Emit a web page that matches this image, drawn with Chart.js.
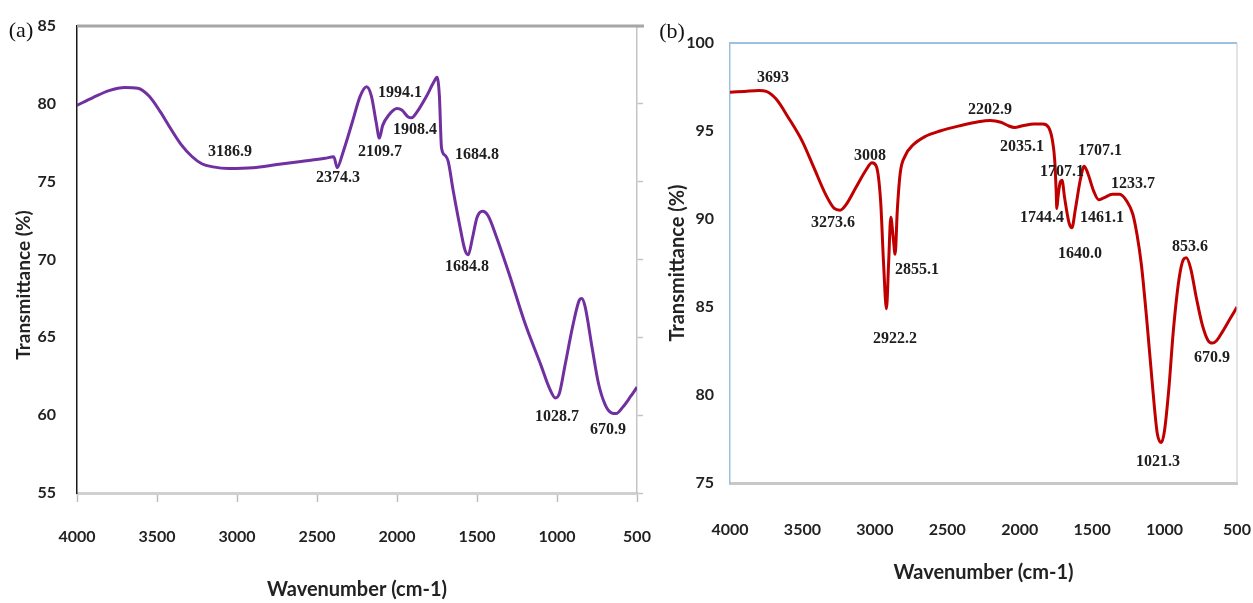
<!DOCTYPE html>
<html>
<head>
<meta charset="utf-8">
<script src="https://cdn.jsdelivr.net/npm/chart.js@4/dist/chart.umd.min.js"></script>
<style>
  html, body { margin: 0; padding: 0; background: #fff; }
  #wrap { position: relative; width: 1253px; height: 603px; overflow: hidden; }
  canvas { position: absolute; top: 0; }
  #cA { left: 0; }
  #cB { left: 650px; }
</style>
</head>
<body>
<div id="wrap">
  <canvas id="cA" width="665" height="603"></canvas>
  <canvas id="cB" width="603" height="603"></canvas>
</div>
<script>
// ---------- DATA ----------
const xTickValues = [4000, 3500, 3000, 2500, 2000, 1500, 1000, 500];
const leftYTicks = [55, 60, 65, 70, 75, 80, 85];
const rightYTicks = [75, 80, 85, 90, 95, 100];

// Panel (a)
const aWavenumber = [4000, 3900, 3800, 3700, 3620, 3550, 3480, 3420, 3350, 3280, 3220, 3150, 3050, 2900, 2750, 2600, 2450, 2395, 2374, 2340, 2280, 2230, 2190, 2160, 2130, 2110, 2090, 2050, 2000, 1970, 1930, 1908, 1880, 1820, 1770, 1750, 1735, 1722, 1700, 1680, 1650, 1610, 1575, 1555, 1530, 1500, 1465, 1430, 1380, 1300, 1200, 1100, 1050, 1010, 985, 950, 900, 860, 845, 825, 780, 740, 700, 660, 630, 590, 540, 500];
const aTransmittance = [79.9, 80.4, 80.85, 81.05, 81.0, 80.5, 79.5, 78.5, 77.4, 76.6, 76.15, 75.95, 75.85, 75.9, 76.1, 76.3, 76.5, 76.6, 75.9, 76.8, 78.8, 80.5, 81.1, 80.5, 78.8, 77.8, 78.6, 79.3, 79.7, 79.6, 79.15, 79.1, 79.4, 80.4, 81.4, 81.7, 80.5, 77.2, 76.7, 76.3, 74.5, 72.3, 70.6, 70.3, 71.3, 72.7, 73.1, 72.8, 71.5, 69.1, 65.9, 63.2, 61.8, 61.1, 61.4, 63.2, 65.8, 67.4, 67.5, 67.0, 64.3, 62.0, 60.7, 60.15, 60.1, 60.5, 61.2, 61.8];
const aLabelText = ["3186.9", "2374.3", "2109.7", "1994.1", "1908.4", "1684.8", "1684.8", "1028.7", "670.9"];
const aLabelX = [3044, 2369, 2106, 1981, 1888, 1500, 1563, 1000, 681];
const aLabelY = [76.9, 75.24, 76.9, 80.7, 78.3, 76.7, 69.5, 59.9, 59.05];

// Panel (b)
const bWavenumber = [4000, 3900, 3800, 3750, 3680, 3600, 3500, 3420, 3340, 3280, 3240, 3200, 3130, 3060, 3020, 2990, 2960, 2940, 2920, 2905, 2890, 2874, 2860, 2845, 2825, 2790, 2737, 2650, 2550, 2412, 2300, 2205, 2130, 2080, 2035, 1980, 1900, 1840, 1800, 1775, 1758, 1748, 1744, 1735, 1720, 1708, 1690, 1660, 1640, 1615, 1580, 1555, 1530, 1490, 1455, 1420, 1360, 1310, 1260, 1220, 1190, 1160, 1120, 1080, 1050, 1022, 1000, 970, 940, 900, 870, 850, 820, 780, 740, 700, 670, 640, 600, 550, 500];
const bTransmittance = [97.2, 97.25, 97.3, 97.25, 96.8, 95.8, 94.4, 92.9, 91.4, 90.6, 90.5, 90.8, 91.8, 92.8, 93.2, 93.0, 91.0, 87.5, 84.9, 87.5, 90.1, 89.0, 88.0, 90.5, 92.6, 93.6, 94.2, 94.7, 95.0, 95.3, 95.5, 95.6, 95.5, 95.3, 95.2, 95.3, 95.4, 95.4, 95.2, 94.5, 93.3, 91.5, 90.6, 91.3, 92.1, 92.2, 91.2, 89.8, 89.5, 90.6, 92.3, 93.0, 92.6, 91.6, 91.1, 91.2, 91.4, 91.4, 91.0, 90.3, 89.1, 87.4, 84.0, 80.2, 77.8, 77.3, 78.0, 80.4, 83.6, 86.6, 87.7, 87.8, 87.2, 85.5, 84.0, 83.1, 82.95, 83.1, 83.6, 84.3, 85.0];
const bLabelText = ["3693", "3008", "3273.6", "2855.1", "2922.2", "2202.9", "2035.1", "1707.1", "1707.1", "1744.4", "1461.1", "1640.0", "1233.7", "853.6", "670.9", "1021.3"];
const bLabelX = [3703, 3034, 3289, 2709, 2861, 2205, 1984, 1446, 1708, 1846, 1432, 1584, 1218, 825, 673, 1046];
const bLabelY = [98.0, 93.6, 89.8, 87.1, 83.2, 96.2, 94.1, 93.9, 92.7, 90.05, 90.05, 88.0, 92.0, 88.4, 82.1, 76.2];

// ---------- HELPERS ----------
const toPoints = (xs, ys) => xs.map((v, i) => ({ x: v, y: ys[i] }));
const zip = (t, xs, ys) => t.map((s, i) => ({ text: s, x: xs[i], y: ys[i] }));
const setTicks = (vals) => (s) => { s.ticks = vals.map(v => ({ value: v })); };
const plain = (v) => String(v);

const decor = {
  id: 'decor',
  afterDraw(chart, args, o) {
    const { ctx, chartArea: a, scales } = chart;
    const x = scales.x, y = scales.y;
    ctx.save();
    (o.lines || []).forEach(l => {
      ctx.beginPath();
      ctx.strokeStyle = l.color; ctx.lineWidth = l.width;
      const pts = l.pts(a);
      ctx.moveTo(pts[0], pts[1]); ctx.lineTo(pts[2], pts[3]);
      ctx.stroke();
    });
    ctx.font = o.labelFont; ctx.fillStyle = '#1e1e1e';
    ctx.textAlign = 'center'; ctx.textBaseline = 'middle';
    o.labels.forEach(l => ctx.fillText(l.text, x.getPixelForValue(l.x), y.getPixelForValue(l.y)));
    ctx.font = o.panelFont; ctx.fillStyle = '#111';
    ctx.fillText(o.panel.text, o.panel.px, o.panel.py);
    if (o.yTitle) {
      ctx.translate(o.yTitle.px, o.yTitle.py);
      ctx.rotate(-Math.PI / 2);
      ctx.font = o.yTitle.font; ctx.fillStyle = '#222';
      ctx.fillText(o.yTitle.text, 0, 0);
    }
    ctx.restore();
  }
};

const tickFont = { family: 'Lato', weight: 'bold', size: 16 };
const titleFont = { family: 'Lato', weight: 'bold', size: 20 };
const labelFont = 'bold 16px "Liberation Serif"';

// ---------- PANEL (a) ----------
new Chart(document.getElementById('cA'), {
  type: 'line',
  data: { datasets: [{
    data: toPoints(aWavenumber, aTransmittance),
    borderColor: '#7030A0', borderWidth: 3, pointRadius: 0,
    cubicInterpolationMode: 'monotone', fill: false
  }]},
  options: {
    responsive: false, animation: false, devicePixelRatio: 1,
    layout: { padding: { left: 0, top: 26, right: 0, bottom: 0 } },
    plugins: {
      legend: { display: false }, tooltip: { enabled: false },
      decor: {
        labels: zip(aLabelText, aLabelX, aLabelY),
        labelFont: labelFont,
        panelFont: '22px "Liberation Serif"',
        panel: { text: '(a)', px: 21, py: 31 },
        yTitle: { text: 'Transmittance (%)', px: 24, py: 285, font: 'bold 19px Lato' },
        lines: [
          { color: '#a6a6a6', width: 3, pts: a => [a.left, a.top, a.right + 7, a.top] }
        ]
      }
    },
    scales: {
      x: {
        type: 'linear', reverse: true, min: 500, max: 4000,
        afterBuildTicks: setTicks(xTickValues),
        afterFit: s => { s.height = 110; s.paddingLeft = 0; s.paddingRight = 0; },
        ticks: { font: tickFont, color: '#222', padding: 25, maxRotation: 0, autoSkip: false, callback: plain },
        grid: { display: true, drawOnChartArea: false, drawTicks: true, tickLength: 9, tickColor: '#bdbdbd', tickWidth: 1.5 },
        border: { display: true, color: '#d0d0d0', width: 3 },
        title: { display: true, text: 'Wavenumber (cm-1)', font: titleFont, color: '#222', padding: { top: 0, bottom: 1 } }
      },
      y: {
        type: 'linear', position: 'left', min: 55, max: 85,
        afterBuildTicks: setTicks(leftYTicks),
        afterFit: s => { s.width = 77; s.paddingTop = 0; s.paddingBottom = 0; },
        ticks: { font: tickFont, color: '#222', padding: 21, callback: plain },
        grid: { display: false, drawTicks: false, tickLength: 0 },
        border: { display: true, color: '#1a1a1a', width: 1.5 },
        title: { display: false }
      },
      y2: {
        type: 'linear', position: 'right', min: 55, max: 85,
        afterBuildTicks: setTicks(leftYTicks),
        afterFit: s => { s.width = 28; s.paddingTop = 0; s.paddingBottom = 0; },
        ticks: { display: false },
        grid: { display: true, drawOnChartArea: false, drawTicks: true, tickLength: 6, tickColor: '#c4c4c4', tickWidth: 1.5 },
        border: { display: true, color: '#c4c4c4', width: 1.5 }
      }
    }
  },
  plugins: [decor]
});

// ---------- PANEL (b) ----------
new Chart(document.getElementById('cB'), {
  type: 'line',
  data: { datasets: [{
    data: toPoints(bWavenumber, bTransmittance),
    borderColor: '#C00000', borderWidth: 3, pointRadius: 0,
    cubicInterpolationMode: 'monotone', fill: false
  }]},
  options: {
    responsive: false, animation: false, devicePixelRatio: 1,
    layout: { padding: { left: 0, top: 43, right: 16, bottom: 0 } },
    plugins: {
      legend: { display: false }, tooltip: { enabled: false },
      decor: {
        labels: zip(bLabelText, bLabelX, bLabelY),
        labelFont: labelFont,
        panelFont: '22px "Liberation Serif"',
        panel: { text: '(b)', px: 22, py: 32 },
        lines: [
          { color: '#9dbfe0', width: 2, pts: a => [a.left, a.top, a.right, a.top] },
          { color: '#d0d0d0', width: 1.2, pts: a => [a.right, a.top, a.right, a.bottom] }
        ]
      }
    },
    scales: {
      x: {
        type: 'linear', reverse: true, min: 500, max: 4000,
        afterBuildTicks: setTicks(xTickValues),
        afterFit: s => { s.height = 120; s.paddingLeft = 0; s.paddingRight = 0; },
        ticks: { font: tickFont, color: '#222', padding: 37, maxRotation: 0, autoSkip: false, callback: plain },
        grid: { display: false, drawTicks: false, tickLength: 0 },
        border: { display: true, color: '#c8c8c8', width: 3 },
        title: { display: true, text: 'Wavenumber (cm-1)', font: titleFont, color: '#222', padding: { top: 0, bottom: 18 } }
      },
      y: {
        type: 'linear', position: 'left', min: 75, max: 100,
        afterBuildTicks: setTicks(rightYTicks),
        afterFit: s => { s.width = 80; s.paddingTop = 0; s.paddingBottom = 0; },
        ticks: { font: tickFont, color: '#222', padding: 16, callback: plain },
        grid: { display: false, drawTicks: false, tickLength: 0 },
        border: { display: true, color: '#9dbfe0', width: 1.5 },
        title: { display: true, text: 'Transmittance (%)', font: titleFont, color: '#222', padding: { top: 16, bottom: 0 } }
      }
    }
  },
  plugins: [decor]
});
</script>
</body>
</html>
